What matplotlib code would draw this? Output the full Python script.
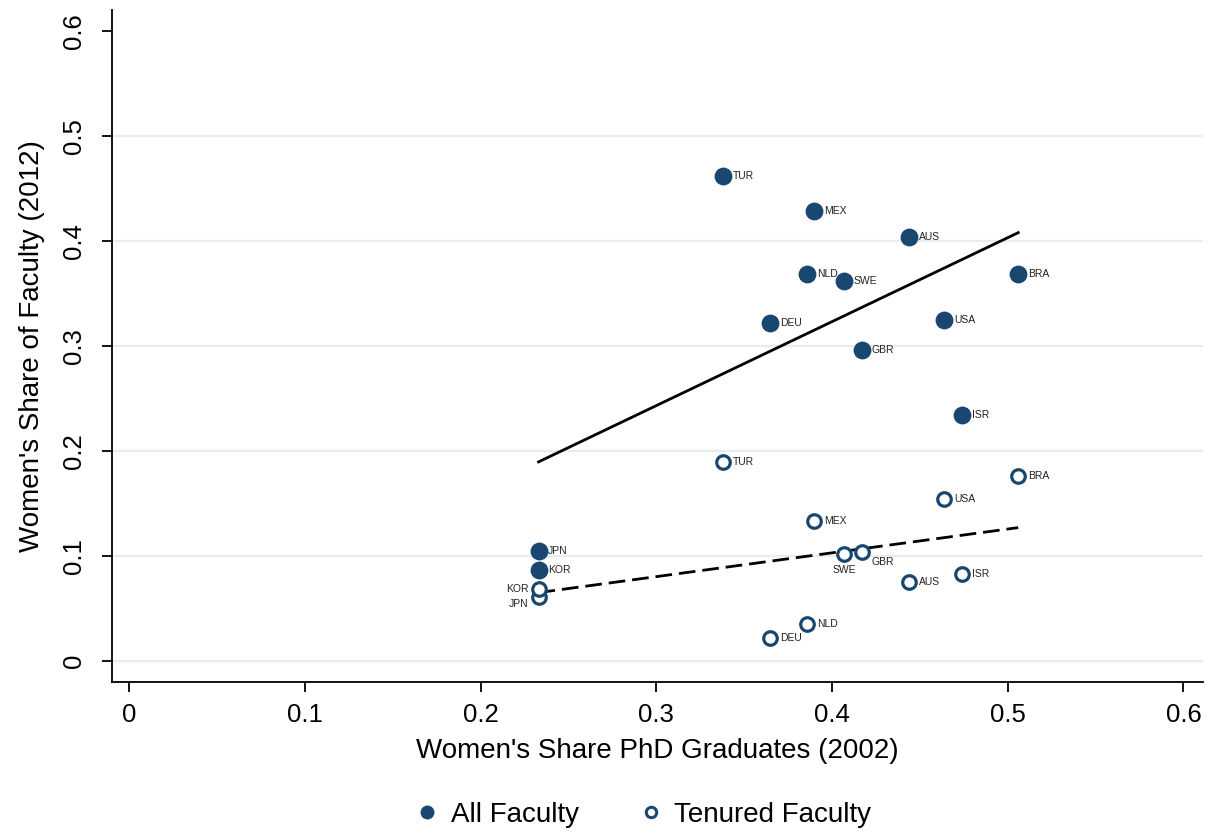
import matplotlib

matplotlib.use("Agg")
import matplotlib.pyplot as plt
import numpy as np
from matplotlib.lines import Line2D

plt.rcParams["font.family"] = ["Liberation Sans", "DejaVu Sans"]

NAVY = "#1a476f"
GRID = "#e4eef0"

countries = ["TUR", "MEX", "AUS", "NLD", "SWE", "BRA", "DEU", "USA", "GBR", "ISR", "JPN", "KOR"]
phd_share_2002 = [0.338, 0.390, 0.444, 0.386, 0.407, 0.506, 0.365, 0.464, 0.417, 0.474, 0.233, 0.233]
all_faculty_2012 = [0.462, 0.429, 0.404, 0.369, 0.362, 0.369, 0.322, 0.325, 0.296, 0.234, 0.105, 0.087]
tenured_2012 = [0.190, 0.133, 0.075, 0.035, 0.102, 0.176, 0.022, 0.154, 0.104, 0.083, 0.061, 0.069]

# label offsets (points) for the tenured markers that don't sit to the right
tenured_offsets = {
    "KOR": (-7, 0, "right", "center"),
    "JPN": (-7, -5, "right", "center"),
    "SWE": (0, -8, "center", "top"),
    "GBR": (7, -4, "left", "top"),
}

x = np.array(phd_share_2002)
y_all = np.array(all_faculty_2012)
y_ten = np.array(tenured_2012)

fig = plt.figure(figsize=(12.1, 8.35), dpi=100, facecolor="white")
ax = fig.add_axes([0.0926, 0.1832, 0.9014, 0.8048])

for yv in np.arange(0, 0.51, 0.1):
    ax.axhline(yv, color=GRID, lw=1.6, zorder=0)

ax.scatter(x, y_all, s=140, color=NAVY, zorder=3)
ax.scatter(x, y_ten, s=95, facecolor="white", edgecolor=NAVY, linewidths=2.3, zorder=3)

xs = np.array([x.min(), x.max()])
b_all = np.polyfit(x, y_all, 1)
b_ten = np.polyfit(x, y_ten, 1)
ax.plot(xs, np.polyval(b_all, xs), color="black", lw=2.0, zorder=2)
ax.plot(xs, np.polyval(b_ten, xs), color="black", lw=2.0, ls=(0, (6, 2.5)), zorder=2)

for c, xv, ya, yt in zip(countries, x, y_all, y_ten):
    ax.annotate(c, (xv, ya), xytext=(7, 0), textcoords="offset points",
                fontsize=7.5, ha="left", va="center", color="#222222")
    dx, dy, ha, va = tenured_offsets.get(c, (7, 0, "left", "center"))
    ax.annotate(c, (xv, yt), xytext=(dx, dy), textcoords="offset points",
                fontsize=7.5, ha=ha, va=va, color="#222222")

ax.set_xlim(-0.0097, 0.611)
ax.set_ylim(-0.02, 0.62)
ticks = np.arange(0, 0.61, 0.1)
tick_labels = ["0", "0.1", "0.2", "0.3", "0.4", "0.5", "0.6"]
ax.set_xticks(ticks)
ax.set_xticklabels(tick_labels)
ax.set_yticks(ticks)
ax.set_yticklabels(tick_labels, rotation=90, va="center")
ax.tick_params(direction="out", length=7, width=1.3, labelsize=18.5)
ax.tick_params(axis="x", pad=8)
ax.tick_params(axis="y", pad=12)
for s in ("top", "right"):
    ax.spines[s].set_visible(False)
for s in ("left", "bottom"):
    ax.spines[s].set_linewidth(1.3)

ax.set_xlabel("Women's Share PhD Graduates (2002)", fontsize=20, labelpad=8)
ax.set_ylabel("Women's Share of Faculty (2012)", fontsize=20, labelpad=12)

handles = [
    Line2D([], [], ls="none", marker="o", ms=9, color=NAVY, label="All Faculty"),
    Line2D([], [], ls="none", marker="o", ms=7.5, mfc="white", mec=NAVY, mew=2.2, label="Tenured Faculty"),
]
fig.legend(handles=handles, loc="center", bbox_to_anchor=(0.532, 0.024), ncol=2,
           frameon=False, fontsize=20, handlelength=0.8, handletextpad=0.45,
           columnspacing=2.2)

fig.savefig("out.png", dpi=100, facecolor="white")
